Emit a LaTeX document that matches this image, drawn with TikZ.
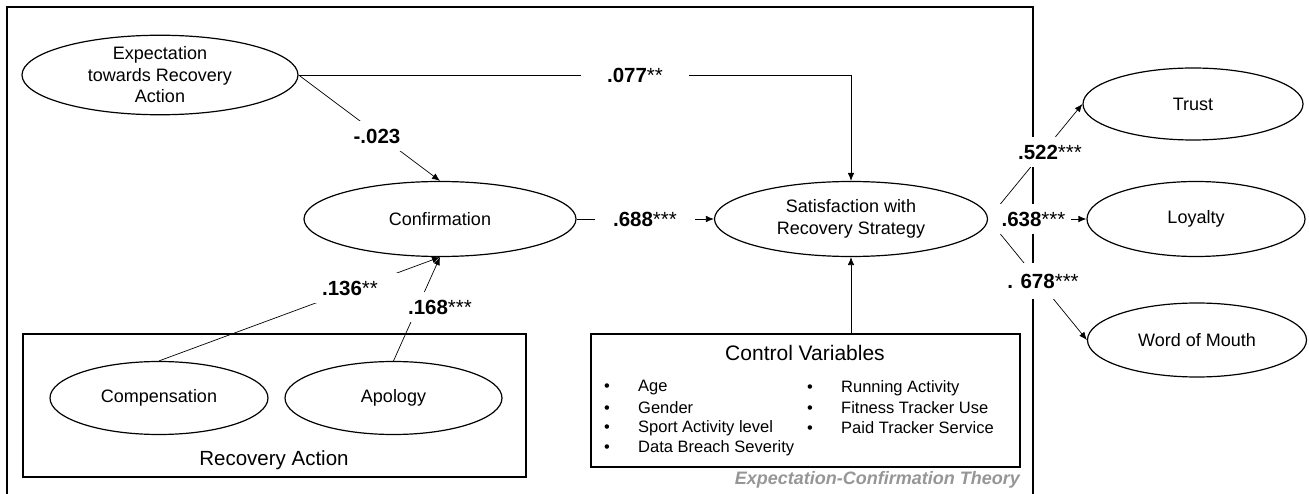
\documentclass[tikz,border=0pt]{standalone}
\usepackage{fontspec}
\setmainfont{Liberation Sans}
\usepackage{tikz}
\usetikzlibrary{arrows.meta, positioning, shapes.geometric, backgrounds}
\usepackage{xcolor}
\definecolor{theorygray}{RGB}{150,150,150}

\newcommand{\ctext}{\fontsize{18}{21.5}\selectfont}
\newcommand{\itemtext}{\fontsize{16.5}{20}\selectfont}
\newcommand{\pitem}[1]{\makebox[34pt][l]{\textbullet}#1}
\newcommand{\sig}[1]{{\mdseries #1}}

\begin{document}
\begin{tikzpicture}[
    x=1pt, y=-1pt,
    >={Latex[length=8pt,width=6.5pt]},
    construct/.style={ellipse, draw, line width=1.2pt, inner sep=0pt,
        align=center, font=\ctext},
    path/.style={line width=0.7pt},
    coef/.style={fill=white, inner xsep=14pt, inner ysep=8pt,
        font=\fontsize{20.5}{24}\selectfont\bfseries},
    groupbox/.style={draw, line width=1.1pt, inner sep=0pt},
    cvitem/.style={anchor=west, inner sep=0pt, font=\itemtext}
]
\useasboundingbox (0,0) rectangle (1309,494);

% Constructs placed manually
\node[construct, minimum width=276pt, minimum height=74pt] (E) at (160,75)
    {Expectation\\towards Recovery\\Action};
\node[construct, minimum width=272pt, minimum height=75pt] (C) at (440,219) {Confirmation};
\node[construct, minimum width=273pt, minimum height=75pt] (S) at (851,219)
    {Satisfaction with\\Recovery Strategy};
\node[construct, minimum width=220pt, minimum height=72pt] (T) at (1193,104) {Trust};
\node[construct, minimum width=218pt, minimum height=75pt] (L) at (1196,219) {Loyalty};
\node[construct, minimum width=219pt, minimum height=74pt] (W) at (1197,340) {Word of Mouth};

% Recovery action group
\node[groupbox, minimum width=503pt, minimum height=143pt] (RA) at (274.5,405.5) {};
\node[construct, minimum width=218pt, minimum height=73pt] (CP) at (159,398) {Compensation};
\node[construct, minimum width=217pt, minimum height=73pt] (AP) at (393.5,398) {Apology};
\node[font=\fontsize{20.5}{24}\selectfont] (RAt) at (274,460) {Recovery Action};

% Control variables
\node[groupbox, minimum width=429pt, minimum height=133pt] (CV) at (805.5,400.5) {};
\node[font=\fontsize{21}{24}\selectfont] (CVt) at (805,353) {Control Variables};
\node[cvitem] (v1) at (604,388) {\pitem{Age}};
\node[cvitem] (v2) at (604,408) {\pitem{Gender}};
\node[cvitem] (v3) at (604,428) {\pitem{Sport Activity level}};
\node[cvitem] (v4) at (604,448) {\pitem{Data Breach Severity}};
\node[cvitem] (v5) at (807,388) {\pitem{Running Activity}};
\node[cvitem] (v6) at (807,408) {\pitem{Fitness Tracker Use}};
\node[cvitem] (v7) at (807,428) {\pitem{Paid Tracker Service}};

\node[anchor=east, text=theorygray, inner sep=0pt,
    font=\fontsize{18}{20}\selectfont\bfseries\itshape] (ECT) at (1020,480)
    {Expectation-Confirmation Theory};

\begin{pgfonlayer}{background}
% Frame
\draw[line width=1.3pt] (7,494) -- (7,7) -- (1033,7) -- (1033,494);

% Arrows
\draw[path, ->] (E.east) -- (E.east -| S.north) -- (S.north);
\draw[path, ->] (E.east) -- (C.north);
\draw[path, ->] (C.east) -- (S.west);
\draw[path, ->] (CP.north) -- (C.south);
\draw[path, ->] (AP.north) -- (C.south);
\draw[path, ->] (CV.north -| S.south) -- (S.south);
\draw[path, ->] (S.east) -- (T.west);
\draw[path, ->] (S.east) -- (L.west);
\draw[path, ->] (S.east) -- (W.west);

% Coefficients
\node[coef, inner xsep=26pt] (b1) at (635,75) {.077\sig{**}};
\node[coef] (b2) at (377,136) {-.023};
\node[coef, inner xsep=18pt] (b3) at (645,219) {.688\sig{***}};
\node[coef, inner xsep=20pt] (b4) at (350,288) {.136\sig{**}};
\node[coef] (b5) at (440,307) {.168\sig{***}};
\node[coef] (b6) at (1050,152) {.522\sig{***}};
\node[coef, inner xsep=6pt] (b7) at (1029.5,219) {\hspace*{8pt}.638\sig{***}};
\node[coef, inner ysep=11pt] (b8) at (1043,281) {. 678\sig{***}};
\end{pgfonlayer}
\end{tikzpicture}
\end{document}
